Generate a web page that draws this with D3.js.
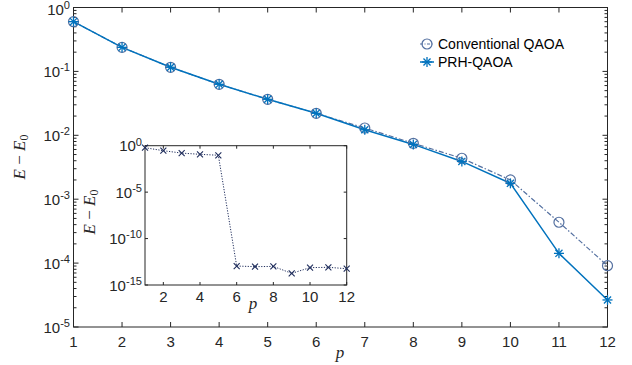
<!DOCTYPE html>
<html><head><meta charset="utf-8">
<script src="https://cdn.jsdelivr.net/npm/d3@7"></script>
<style>body{margin:0;background:#fff}svg{display:block}</style>
</head><body><svg id="c" width="632" height="365" font-family="'Liberation Sans',Arial,sans-serif"></svg>
<script>
const p = [1,2,3,4,5,6,7,8,9,10,11,12];
const conventional = [0.60,0.238,0.116,0.0628,0.0366,0.0221,0.0130,0.0075,0.00437,0.00200,4.36e-4,9.1e-5];
const prh = [0.60,0.238,0.116,0.0628,0.0366,0.0221,0.0122,0.0072,0.0039,0.00177,1.42e-4,2.65e-5];
const insetValues = [0.61,0.29,0.16,0.118,0.093,1.1e-13,9.5e-14,1.0e-13,1.8e-14,7.4e-14,8e-14,5.7e-14];
const mainXTicks = [1,2,3,4,5,6,7,8,9,10,11,12];
const mainYExp = [0,-1,-2,-3,-4,-5];
const insetXTicks = [2,4,6,8,10,12];
const insetYExp = [0,-5,-10,-15];
const legendLabels = ["Conventional QAOA","PRH-QAOA"];

const svg = d3.select("#c");
const axisCol = "#262626";
const convCol = "#5470a0", prhCol = "#0072bd", insetCol = "#1f2d5c";
const serif = "'Liberation Serif','Times New Roman',serif";

function logTicks(g, y, x0, x1, expMin, expMax, len, minor){
  for(let e=expMax; e>=expMin; e--){
    const yy = y(Math.pow(10,e));
    g.append("line").attr("x1",x0).attr("x2",x0+len).attr("y1",yy).attr("y2",yy).attr("stroke",axisCol);
    g.append("line").attr("x1",x1).attr("x2",x1-len).attr("y1",yy).attr("y2",yy).attr("stroke",axisCol);
    if(minor && e>expMin){
      for(let k=2;k<=9;k++){
        const ym = y(k*Math.pow(10,e-1));
        g.append("line").attr("x1",x0).attr("x2",x0+len*0.6).attr("y1",ym).attr("y2",ym).attr("stroke",axisCol);
        g.append("line").attr("x1",x1).attr("x2",x1-len*0.6).attr("y1",ym).attr("y2",ym).attr("stroke",axisCol);
      }
    }
  }
}
function supLabel(g, x, yy, exp, size){
  const t = g.append("text").attr("x",x).attr("y",yy).attr("text-anchor","end").attr("font-size",size).attr("fill",axisCol);
  t.append("tspan").text("10");
  t.append("tspan").attr("dy",-size*0.38).attr("font-size",size*0.74).text(exp);
}
function axLabelE(g, x, y, size){
  const t = g.append("text").attr("transform",`translate(${x},${y}) rotate(-90)`).attr("text-anchor","middle")
    .style("font-family",serif).attr("font-size",size).attr("fill",axisCol);
  t.append("tspan").attr("font-style","italic").text("E");
  t.append("tspan").text(" \u2212 ");
  t.append("tspan").attr("font-style","italic").text("E");
  t.append("tspan").attr("font-size",size*0.7).attr("dy",size*0.2).text("0");
}

// main axes
const X0=73.5, X1=607.5, Y0=7.5, Y1=327;
const x = d3.scaleLinear().domain([1,12]).range([X0,X1]);
const y = d3.scaleLog().domain([1e-5,1]).range([Y1,Y0]);
const main = svg.append("g");
main.append("rect").attr("x",X0).attr("y",Y0).attr("width",X1-X0).attr("height",Y1-Y0).attr("fill","#fff").attr("stroke",axisCol).attr("stroke-width",1);
mainXTicks.forEach(v=>{
  main.append("line").attr("x1",x(v)).attr("x2",x(v)).attr("y1",Y1).attr("y2",Y1-5).attr("stroke",axisCol);
  main.append("line").attr("x1",x(v)).attr("x2",x(v)).attr("y1",Y0).attr("y2",Y0+5).attr("stroke",axisCol);
  main.append("text").attr("x",x(v)).attr("y",Y1+20).attr("text-anchor","middle").attr("font-size",15).attr("fill",axisCol).text(v);
});
logTicks(main, y, X0, X1, -5, 0, 5, true);
mainYExp.forEach(e=>supLabel(main, 70, Math.max(y(Math.pow(10,e))+5.5, 14.5), e, 15));
axLabelE(main, 25, 157, 17);
main.append("text").attr("x",340).attr("y",358).attr("text-anchor","middle").style("font-family",serif).attr("font-style","italic").attr("font-size",17).attr("fill",axisCol).text("p");

const line = d3.line().x((d,i)=>x(p[i])).y(d=>y(d));
main.append("path").datum(conventional).attr("d",line).attr("fill","none").attr("stroke",convCol).attr("stroke-width",1.2).attr("stroke-dasharray","5,2,1.5,2");
main.append("path").datum(prh).attr("d",line).attr("fill","none").attr("stroke",prhCol).attr("stroke-width",1.5);
function star(g,cx,cy,r,col){
  [[0,1],[1,0],[0.707,0.707],[0.707,-0.707]].forEach(([dx,dy])=>{
    g.append("line").attr("x1",cx-dx*r).attr("x2",cx+dx*r).attr("y1",cy-dy*r).attr("y2",cy+dy*r).attr("stroke",col).attr("stroke-width",1.3);
  });
}
conventional.forEach((v,i)=>main.append("circle").attr("cx",x(p[i])).attr("cy",y(v)).attr("r",5).attr("fill","none").attr("stroke",convCol).attr("stroke-width",1.2));
prh.forEach((v,i)=>star(main,x(p[i]),y(v),5,prhCol));

// legend
const lg = main.append("g");
lg.append("line").attr("x1",420).attr("x2",434).attr("y1",44).attr("y2",44).attr("stroke",convCol).attr("stroke-width",1.2).attr("stroke-dasharray","3,1.5,1,1.5");
lg.append("circle").attr("cx",427).attr("cy",44).attr("r",5).attr("fill","none").attr("stroke",convCol).attr("stroke-width",1.2);
lg.append("text").attr("x",438).attr("y",49).attr("font-size",14).attr("fill","#000").text(legendLabels[0]);
lg.append("line").attr("x1",420).attr("x2",434).attr("y1",62).attr("y2",62).attr("stroke",prhCol).attr("stroke-width",1.5);
star(lg,427,62,5,prhCol);
lg.append("text").attr("x",438).attr("y",67).attr("font-size",14).attr("fill","#000").text(legendLabels[1]);

// inset
const IX0=145, IX1=346.7, IY0=145.7, IY1=285;
const xi = d3.scaleLinear().domain([1,12]).range([IX0,IX1]);
const yi = d3.scaleLog().domain([1e-15,1]).range([IY1,IY0]);
const ins = svg.append("g");
ins.append("rect").attr("x",IX0).attr("y",IY0).attr("width",IX1-IX0).attr("height",IY1-IY0).attr("fill","#fff").attr("stroke",axisCol);
insetXTicks.forEach(v=>{
  ins.append("line").attr("x1",xi(v)).attr("x2",xi(v)).attr("y1",IY1).attr("y2",IY1-3).attr("stroke",axisCol);
  ins.append("line").attr("x1",xi(v)).attr("x2",xi(v)).attr("y1",IY0).attr("y2",IY0+3).attr("stroke",axisCol);
  ins.append("text").attr("x",xi(v)).attr("y",IY1+17).attr("text-anchor","middle").attr("font-size",15).attr("fill",axisCol).text(v);
});
insetYExp.forEach(e=>{
  const yy = yi(Math.pow(10,e));
  ins.append("line").attr("x1",IX0).attr("x2",IX0+3).attr("y1",yy).attr("y2",yy).attr("stroke",axisCol);
  ins.append("line").attr("x1",IX1).attr("x2",IX1-3).attr("y1",yy).attr("y2",yy).attr("stroke",axisCol);
  supLabel(ins, 142, yy+5.5, e, 15);
});
axLabelE(ins, 95, 212, 17);
ins.append("text").attr("x",253).attr("y",309).attr("text-anchor","middle").style("font-family",serif).attr("font-style","italic").attr("font-size",17).attr("fill",axisCol).text("p");
const lineI = d3.line().x((d,i)=>xi(p[i])).y(d=>yi(d));
ins.append("path").datum(insetValues).attr("d",lineI).attr("fill","none").attr("stroke",insetCol).attr("stroke-width",1).attr("stroke-dasharray","1.2,1.5");
insetValues.forEach((v,i)=>{
  const cx=xi(p[i]), cy=yi(v), r=3;
  ins.append("path").attr("d",`M${cx-r},${cy-r}L${cx+r},${cy+r}M${cx-r},${cy+r}L${cx+r},${cy-r}`).attr("stroke",insetCol).attr("stroke-width",1.1);
});
</script></body></html>
